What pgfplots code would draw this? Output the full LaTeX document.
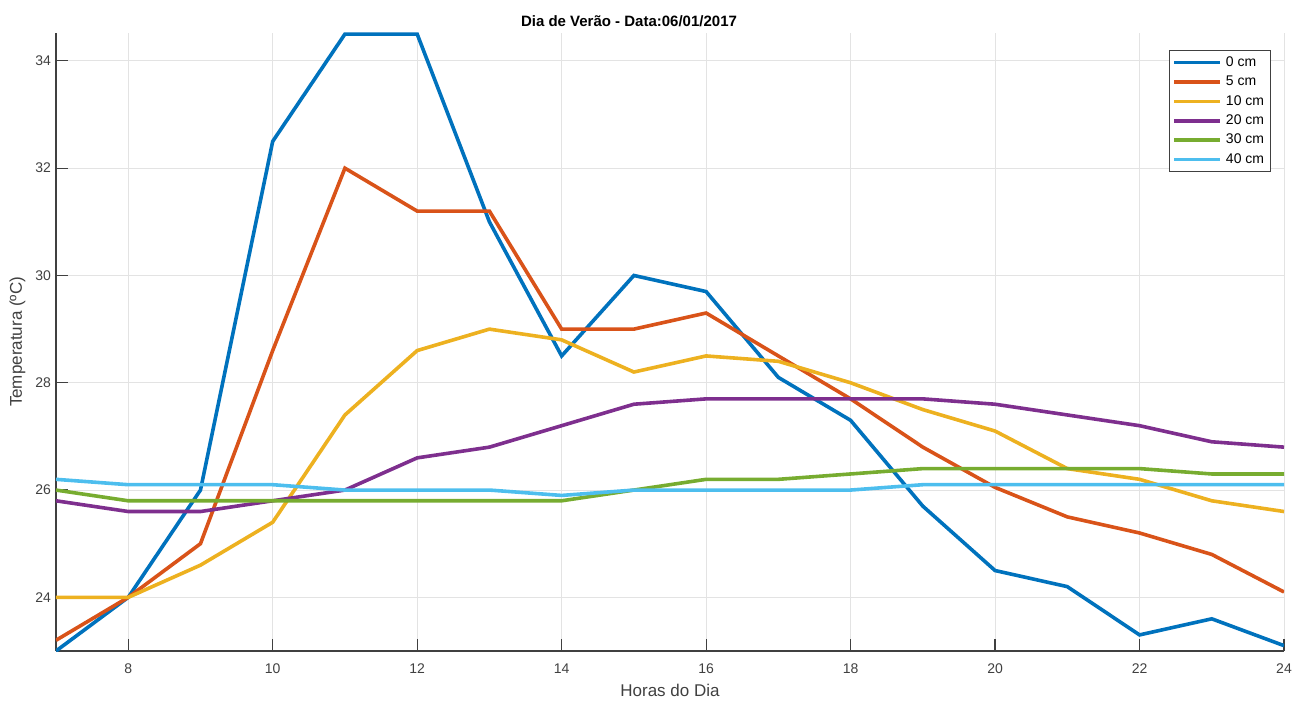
\documentclass[border=0pt]{standalone}
\usepackage{pgfplots}
\pgfplotsset{compat=1.18}
\usepackage{fontspec}
\setmainfont{Liberation Sans}
\definecolor{c1}{HTML}{0072BD}
\definecolor{c2}{HTML}{D95319}
\definecolor{c3}{HTML}{EDB120}
\definecolor{c4}{HTML}{7E2F8E}
\definecolor{c5}{HTML}{77AC30}
\definecolor{c6}{HTML}{4DBEEE}
\definecolor{axgray}{HTML}{404040}
\begin{document}
\begin{tikzpicture}
\path[use as bounding box] (0,0) rectangle (650pt,351pt);
\begin{axis}[
  at={(28pt,25.5pt)}, anchor=south west,
  scale only axis, width=614pt, height=309pt,
  xmin=7, xmax=24, ymin=23, ymax=34.52,
  xtick={8,10,...,24}, ytick={24,26,...,34},
  tick align=inside, major tick length=6pt,
  axis x line*=bottom, axis y line*=left,
  axis line style={-, axgray, line width=0.6pt},
  tick style={axgray, line width=0.6pt},
  grid=major, major grid style={gray!22, line width=0.5pt},
  /pgf/number format/assume math mode=true,
  ticklabel style={font=\fontsize{7}{8}\selectfont, text=axgray},
  xticklabel style={yshift=-3pt},
  yticklabel style={xshift=1pt},
  title={\textbf{Dia de Verão - Data:06/01/2017}},
  title style={at={(0.5,1)}, anchor=base, yshift=-3pt, xshift=-20.5pt, font=\fontsize{7.5}{9}\selectfont},
  xlabel={Horas do Dia}, ylabel={Temperatura (ºC)},
  label style={font=\fontsize{8.5}{10}\selectfont, text=axgray},
  xlabel style={at={(axis description cs:0.5,0)}, anchor=base, yshift=-22.5pt},
  ylabel style={at={(axis description cs:0,0.5)}, anchor=center, yshift=19.25pt},
  legend style={at={(1,1)}, anchor=north east, xshift=-6.5pt, yshift=-8.5pt,
    font=\fontsize{7}{8}\selectfont, draw=axgray, line width=0.5pt,
    inner sep=1.2pt, row sep=0pt, cells={anchor=west},
    nodes={text height=5.2pt, text depth=1.5pt, inner ysep=1.5pt}},
  legend image code/.code={\draw[#1, line width=1.8pt] (0pt,0pt) -- (23pt,0pt);},
  every axis plot/.append style={line width=1.8pt},
  clip=true,
]
\addplot[c1] coordinates {(7,23.0) (8,24.0) (9,26.0) (10,32.5) (11,34.5) (12,34.5) (13,31.0) (14,28.5) (15,30.0) (16,29.7) (17,28.1) (18,27.3) (19,25.7) (20,24.5) (21,24.2) (22,23.3) (23,23.6) (24,23.1)};
\addplot[c2] coordinates {(7,23.2) (8,24.0) (9,25.0) (10,28.6) (11,32.0) (12,31.2) (13,31.2) (14,29.0) (15,29.0) (16,29.3) (17,28.5) (18,27.7) (19,26.8) (20,26.05) (21,25.5) (22,25.2) (23,24.8) (24,24.1)};
\addplot[c3] coordinates {(7,24.0) (8,24.0) (9,24.6) (10,25.4) (11,27.4) (12,28.6) (13,29.0) (14,28.8) (15,28.2) (16,28.5) (17,28.4) (18,28.0) (19,27.5) (20,27.1) (21,26.4) (22,26.2) (23,25.8) (24,25.6)};
\addplot[c4] coordinates {(7,25.8) (8,25.6) (9,25.6) (10,25.8) (11,26.0) (12,26.6) (13,26.8) (14,27.2) (15,27.6) (16,27.7) (17,27.7) (18,27.7) (19,27.7) (20,27.6) (21,27.4) (22,27.2) (23,26.9) (24,26.8)};
\addplot[c5] coordinates {(7,26.0) (8,25.8) (9,25.8) (10,25.8) (11,25.8) (12,25.8) (13,25.8) (14,25.8) (15,26.0) (16,26.2) (17,26.2) (18,26.3) (19,26.4) (20,26.4) (21,26.4) (22,26.4) (23,26.3) (24,26.3)};
\addplot[c6] coordinates {(7,26.2) (8,26.1) (9,26.1) (10,26.1) (11,26.0) (12,26.0) (13,26.0) (14,25.9) (15,26.0) (16,26.0) (17,26.0) (18,26.0) (19,26.1) (20,26.1) (21,26.1) (22,26.1) (23,26.1) (24,26.1)};
\legend{0 cm, 5 cm, 10 cm, 20 cm, 30 cm, 40 cm}
\end{axis}
\end{tikzpicture}
\end{document}
